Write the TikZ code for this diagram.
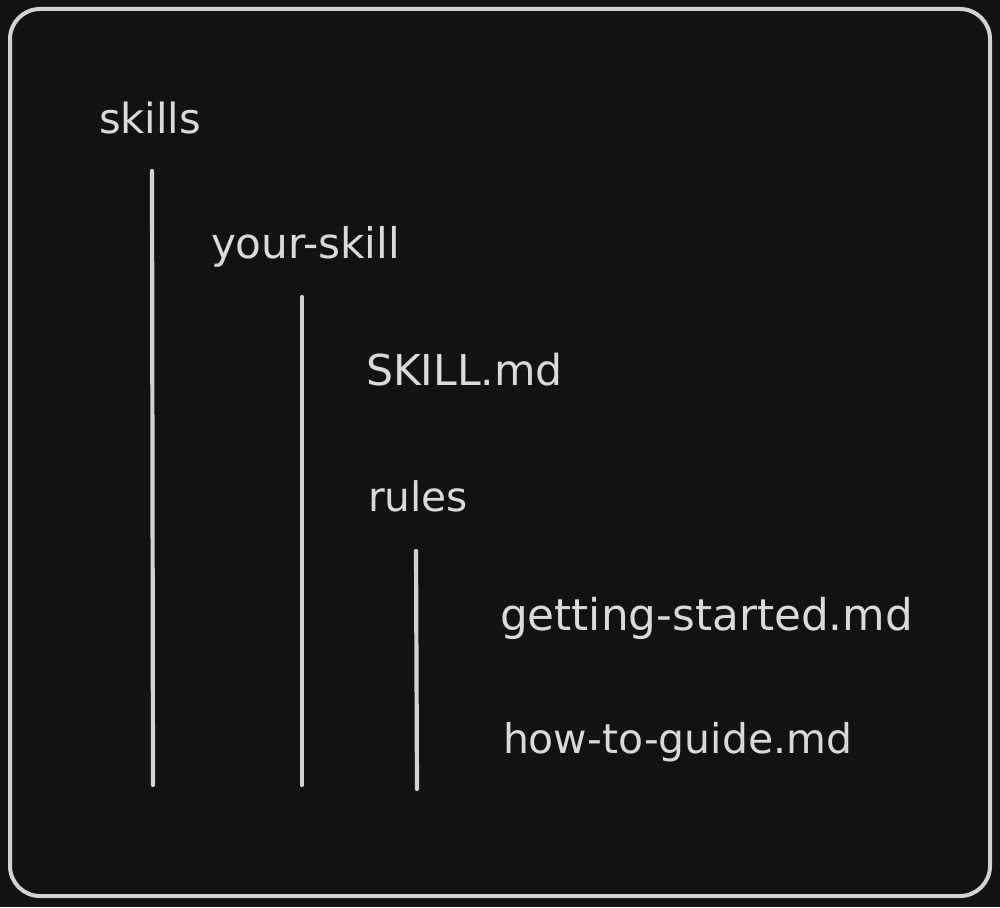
\documentclass[tikz,border=0pt]{standalone}
\usepackage{fontspec}
\setmainfont{DejaVu Sans}
\definecolor{bgc}{HTML}{121212}
\definecolor{ink}{HTML}{DADADA}
\definecolor{stroke}{HTML}{D2D2D2}
\tikzset{
  label/.style={anchor=base west, inner sep=0pt, outer sep=0pt, text=ink, font=\fontsize{40}{48}\selectfont},
  guide/.style={draw=stroke, line width=4.2pt, line cap=round},
  frame/.style={draw=stroke, line width=4pt, rounded corners=30pt, fill=bgc}
}
\begin{document}
\begin{tikzpicture}[x=1pt,y=-1pt]
\fill[bgc] (0,0) rectangle (1000,907);
\useasboundingbox (0,0) rectangle (1000,907);
\draw[frame] (10,9) rectangle (990,896);
\node[label] (skills) at (99,133) {\resizebox{102pt}{!}{skills}};
\node[label] (your) at (211,258) {\resizebox{189pt}{!}{your-skill}};
\node[label] (skillmd) at (366,385) {\resizebox{197pt}{!}{SKILL.md}};
\node[label] (rules) at (368,511) {\resizebox{100pt}{!}{rules}};
\node[label] (gs) at (500,630) {\resizebox{413pt}{!}{getting-started.md}};
\node[label] (htg) at (503,753) {\resizebox{349pt}{!}{how-to-guide.md}};
\coordinate (a1) at (152,171);
\coordinate (a2) at (153,785);
\coordinate (b1) at (302,297);
\coordinate (b2) at (302,785);
\coordinate (c1) at (416,551);
\coordinate (c2) at (417,789);
\draw[guide] (a1) -- (a2);
\draw[guide] (b1) -- (b2);
\draw[guide] (c1) -- (c2);
\end{tikzpicture}
\end{document}
